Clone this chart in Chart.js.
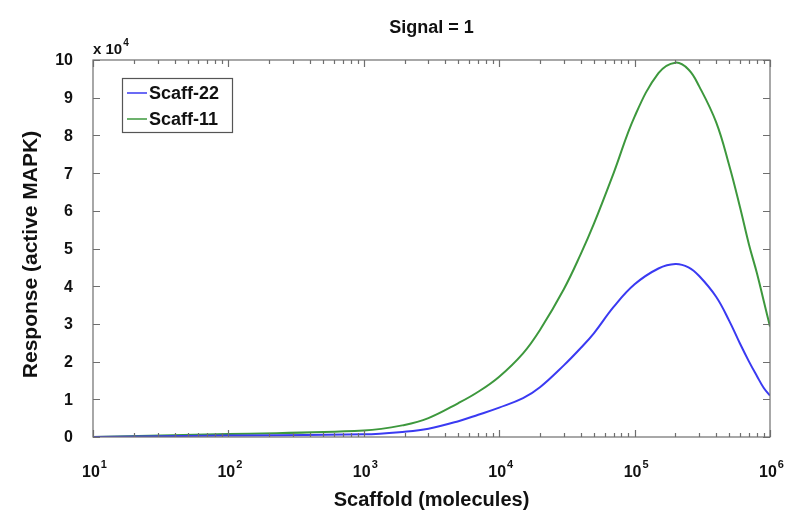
<!DOCTYPE html>
<html>
<head>
<meta charset="utf-8">
<script src="https://cdn.jsdelivr.net/npm/chart.js@4/dist/chart.umd.min.js"></script>
<style>
html,body{margin:0;padding:0;background:#fff;}
#wrap{width:800px;height:530px;}
</style>
</head>
<body>
<div id="wrap"><canvas id="c" width="800" height="530"></canvas></div>
<script>
// Scaffold amounts (molecules)
const scaffold = [10, 100, 1000, 2000, 3000, 5000, 7000, 1e4, 1.5e4, 2e4, 3e4, 4e4, 5e4, 7e4, 1e5, 1.5e5, 2e5, 2.5e5, 3e5, 4e5, 5e5, 6e5, 7e5, 8e5, 9e5, 1e6];
// Response (active MAPK), in units of 10^4
const scaff22 = [0, 0.04, 0.07, 0.14, 0.22, 0.42, 0.59, 0.78, 1.03, 1.32, 1.9, 2.36, 2.75, 3.45, 4.05, 4.47, 4.59, 4.5, 4.27, 3.72, 3.08, 2.48, 2.0, 1.62, 1.3, 1.1];
const scaff11 = [0, 0.08, 0.17, 0.32, 0.5, 0.9, 1.2, 1.6, 2.22, 2.84, 3.92, 4.85, 5.65, 7.0, 8.5, 9.65, 9.93, 9.75, 9.3, 8.35, 7.2, 6.1, 5.1, 4.35, 3.6, 2.93];
const seriesNames = ['Scaff-22', 'Scaff-11'];
const yTicks = [0, 1, 2, 3, 4, 5, 6, 7, 8, 9, 10];
const xExponents = [1, 2, 3, 4, 5, 6];
const titleText = 'Signal = 1';
const xTitle = 'Scaffold (molecules)';
const yTitle = 'Response (active MAPK)';
const yMultiplierExp = '4';

const FONT = '"Liberation Sans", Arial, Helvetica, sans-serif';
const AXIS_COLOR = '#6e6e6e';

const decorPlugin = {
  id: 'decor',
  afterDatasetsDraw(chart) {
    const ctx = chart.ctx;
    const a = chart.chartArea;
    const xs = chart.scales.x, ys = chart.scales.y;
    ctx.save();
    // box
    ctx.strokeStyle = AXIS_COLOR;
    ctx.lineWidth = 1.2;
    ctx.strokeRect(a.left, a.top, a.right - a.left, a.bottom - a.top);
    // y ticks (inward, both sides)
    ctx.beginPath();
    yTicks.forEach(v => {
      const py = Math.round(ys.getPixelForValue(v)) + 0.5;
      ctx.moveTo(a.left, py); ctx.lineTo(a.left + 7, py);
      ctx.moveTo(a.right, py); ctx.lineTo(a.right - 7, py);
    });
    // x ticks (log, inward, top and bottom)
    xExponents.forEach((e, i) => {
      const base = Math.pow(10, e);
      const px = Math.round(xs.getPixelForValue(base)) + 0.5;
      ctx.moveTo(px, a.bottom); ctx.lineTo(px, a.bottom - 7);
      ctx.moveTo(px, a.top); ctx.lineTo(px, a.top + 7);
      if (i < xExponents.length - 1) {
        for (let m = 2; m <= 9; m++) {
          const qx = Math.round(xs.getPixelForValue(m * base)) + 0.5;
          ctx.moveTo(qx, a.bottom); ctx.lineTo(qx, a.bottom - 4);
          ctx.moveTo(qx, a.top); ctx.lineTo(qx, a.top + 4);
        }
      }
    });
    ctx.stroke();

    ctx.fillStyle = '#111';
    // y tick labels
    ctx.font = 'bold 16px ' + FONT;
    ctx.textAlign = 'right';
    ctx.textBaseline = 'middle';
    yTicks.forEach(v => {
      ctx.fillText(String(v), a.left - 20, ys.getPixelForValue(v) + 1);
    });
    // x tick labels 10^e
    ctx.textBaseline = 'alphabetic';
    xExponents.forEach(e => {
      const px = xs.getPixelForValue(Math.pow(10, e));
      ctx.font = 'bold 16px ' + FONT;
      const w1 = ctx.measureText('10').width;
      ctx.font = 'bold 11px ' + FONT;
      const w2 = ctx.measureText(String(e)).width;
      const start = px - (w1 + w2) / 2 + 1;
      ctx.textAlign = 'left';
      ctx.font = 'bold 16px ' + FONT;
      ctx.fillText('10', start, a.bottom + 40);
      ctx.font = 'bold 11px ' + FONT;
      ctx.fillText(String(e), start + w1 + 1, a.bottom + 31);
    });
    // multiplier x 10^4
    ctx.textAlign = 'left';
    ctx.font = 'bold 15px ' + FONT;
    ctx.fillText('x 10', a.left, a.top - 6);
    const wm = ctx.measureText('x 10').width;
    ctx.font = 'bold 10px ' + FONT;
    ctx.fillText(yMultiplierExp, a.left + wm + 1, a.top - 14);
    // title
    const cx = (a.left + a.right) / 2;
    ctx.textAlign = 'center';
    ctx.font = 'bold 18px ' + FONT;
    ctx.fillText(titleText, cx, a.top - 27);
    // x title
    ctx.font = 'bold 20px ' + FONT;
    ctx.fillText(xTitle, cx, a.bottom + 69);
    // y title
    ctx.save();
    ctx.translate(37, (a.top + a.bottom) / 2 + 6);
    ctx.rotate(-Math.PI / 2);
    ctx.font = 'bold 21px ' + FONT;
    ctx.textBaseline = 'alphabetic';
    ctx.fillText(yTitle, 0, 0);
    ctx.restore();

    // legend
    const lx = 122, ly = 78, lw = 110, lh = 54;
    ctx.fillStyle = '#fff';
    ctx.fillRect(lx, ly, lw, lh);
    ctx.strokeStyle = '#555';
    ctx.lineWidth = 1.2;
    ctx.strokeRect(lx + 0.5, ly + 0.5, lw, lh);
    chart.data.datasets.forEach((ds, i) => {
      const yy = ly + 15 + i * 26;
      ctx.strokeStyle = ds.borderColor;
      ctx.lineWidth = 1.5;
      ctx.beginPath(); ctx.moveTo(lx + 5, yy); ctx.lineTo(lx + 25, yy); ctx.stroke();
      ctx.fillStyle = '#111';
      ctx.textAlign = 'left';
      ctx.textBaseline = 'middle';
      ctx.font = 'bold 18px ' + FONT;
      ctx.fillText(ds.label, lx + 27, yy + 1);
    });
    ctx.restore();
  }
};

new Chart(document.getElementById('c'), {
  type: 'line',
  data: {
    datasets: [
      { label: seriesNames[0], data: scaffold.map((x, i) => ({ x: x, y: scaff22[i] })), borderColor: '#3a3af2', borderWidth: 2, pointRadius: 0, tension: 0.4, fill: false },
      { label: seriesNames[1], data: scaffold.map((x, i) => ({ x: x, y: scaff11[i] })), borderColor: '#3d983d', borderWidth: 2, pointRadius: 0, tension: 0.4, fill: false }
    ]
  },
  options: {
    responsive: false,
    animation: false,
    events: [],
    layout: { padding: { left: 93, right: 30, top: 60, bottom: 93 } },
    plugins: { legend: { display: false }, tooltip: { enabled: false }, title: { display: false } },
    scales: {
      x: { type: 'logarithmic', min: 10, max: 1e6, display: false },
      y: { type: 'linear', min: 0, max: 10, display: false }
    }
  },
  plugins: [decorPlugin]
});
</script>
</body>
</html>
